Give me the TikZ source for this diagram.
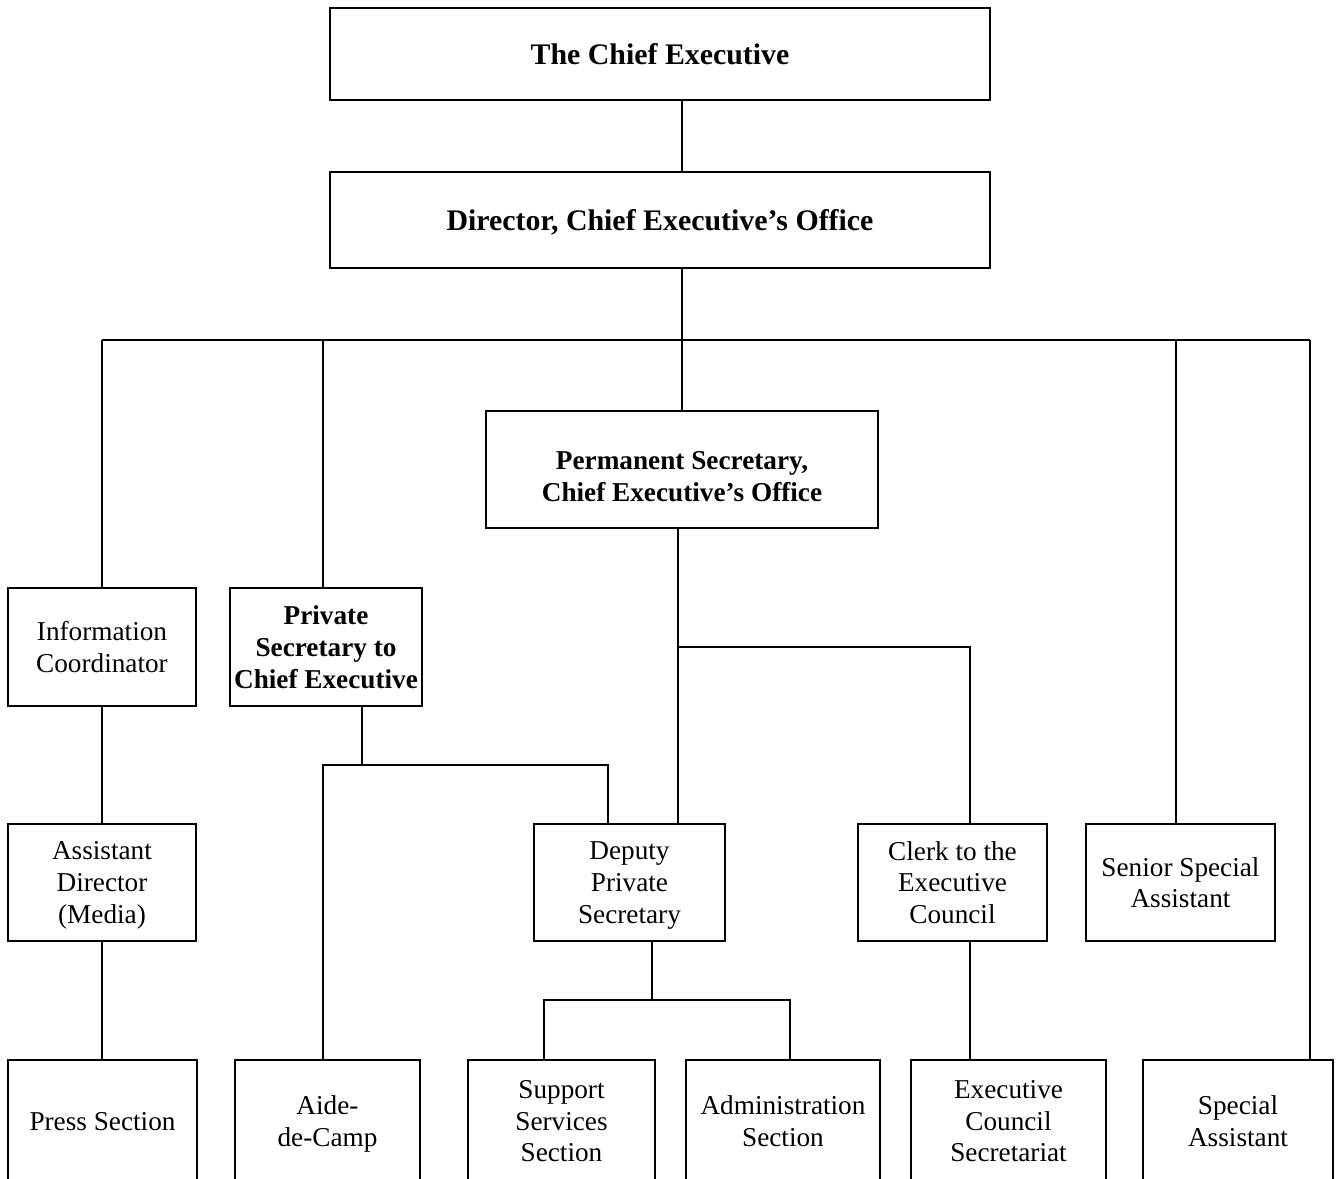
\documentclass[tikz,border=0pt]{standalone}
\usepackage{fontspec}
\setmainfont{Liberation Serif}
\usetikzlibrary{shapes,arrows,positioning}

\tikzset{
	post/.style={draw, line width=1.4pt, inner sep=0pt, align=center, text depth=0pt, font=\fontsize{15.5}{18}\selectfont},
	bold/.style={font=\fontsize{15.5}{18}\selectfont\bfseries},
	head/.style={font=\fontsize{17}{20}\selectfont\bfseries},
	box/.style 2 args={post, minimum width=#1cm, minimum height=#2cm}
}

\begin{document}
\begin{tikzpicture}[x=0.02cm, y=-0.02cm, line width=1.4pt]
				\useasboundingbox (0,0) rectangle (1339,1178);
				\clip (0,0) rectangle (1339,1178);

				\node [box={13.2}{1.84}, head] (ce)    at (660,54)     {The Chief Executive};
				\node [box={13.2}{1.92}, head] (dir)   at (660,220)    {Director, Chief Executive's Office};
				\node [box={7.84}{2.34}, bold, text height=36.4pt] (ps) at (682,469.5) {Permanent Secretary,\\Chief Executive's Office};

				\node [box={3.76}{2.36}]       (ic)    at (102,647)    {Information\\Coordinator};
				\node [box={3.84}{2.36}, bold] (pvs)   at (326,647)    {Private\\Secretary to\\Chief Executive};

				\node [box={3.76}{2.34}]       (ad)    at (102,882.5)  {Assistant\\Director\\(Media)};
				\node [box={3.82}{2.34}]       (dps)   at (629.5,882.5) {Deputy\\Private\\Secretary};
				\node [box={3.78}{2.34}]       (clerk) at (952.5,882.5) {Clerk to the\\Executive\\Council};
				\node [box={3.78}{2.34}]       (ssa)   at (1180.5,882.5) {Senior Special\\Assistant};

				\node [box={3.78}{2.44}]       (press) at (102.5,1121) {Press Section};
				\node [box={3.70}{2.44}]       (aide)  at (327.5,1121) {Aide-\\de-Camp};
				\node [box={3.74}{2.44}]       (sss)   at (561.5,1121) {Support\\Services\\Section};
				\node [box={3.88}{2.44}]       (adm)   at (783,1121)   {Administration\\Section};
				\node [box={3.90}{2.44}]       (ecs)   at (1008.5,1121) {Executive\\Council\\Secretariat};
				\node [box={3.80}{2.44}]       (sa)    at (1238,1121)  {Special\\Assistant};

				\coordinate (bus)      at (102,340);
				\coordinate (pvsdrop)  at (323,340);
				\coordinate (ssadrop)  at (1176,340);
				\coordinate (sadrop)   at (1310,340);
				\coordinate (psjoin)   at (678,647);
				\coordinate (clerkjoin) at (970,647);
				\coordinate (pvsjoin)  at (362,765);
				\coordinate (aidejoin) at (323,765);
				\coordinate (dpsjoin)  at (608,765);
				\coordinate (dpsbus)   at (652,1000);
				\coordinate (sssjoin)  at (544,1000);
				\coordinate (admjoin)  at (790,1000);

				\draw (ce.south -| ps.north) -- (dir.north -| ps.north);
				\draw (dir.south -| ps.north) -- (ps.north);
				\draw (bus) -- (sadrop);
				\draw (bus) -- (bus |- ic.north);
				\draw (pvsdrop) -- (pvsdrop |- pvs.north);
				\draw (ssadrop) -- (ssadrop |- ssa.north);
				\draw (sadrop) -- (sadrop |- sa.north);

				\draw (psjoin |- ps.south) -- (psjoin |- dps.north);
				\draw (psjoin) -- (clerkjoin) -- (clerkjoin |- clerk.north);
				\draw (clerkjoin |- clerk.south) -- (clerkjoin |- ecs.north);

				\draw (ic.south) -- (ad.north);
				\draw (ad.south) -- (ad.south |- press.north);

				\draw (pvsjoin |- pvs.south) -- (pvsjoin);
				\draw (aidejoin |- aide.north) -- (aidejoin) -- (dpsjoin) -- (dpsjoin |- dps.north);

				\draw (dpsbus |- dps.south) -- (dpsbus);
				\draw (sssjoin |- sss.north) -- (sssjoin) -- (admjoin) -- (admjoin |- adm.north);

\end{tikzpicture}
\end{document}
